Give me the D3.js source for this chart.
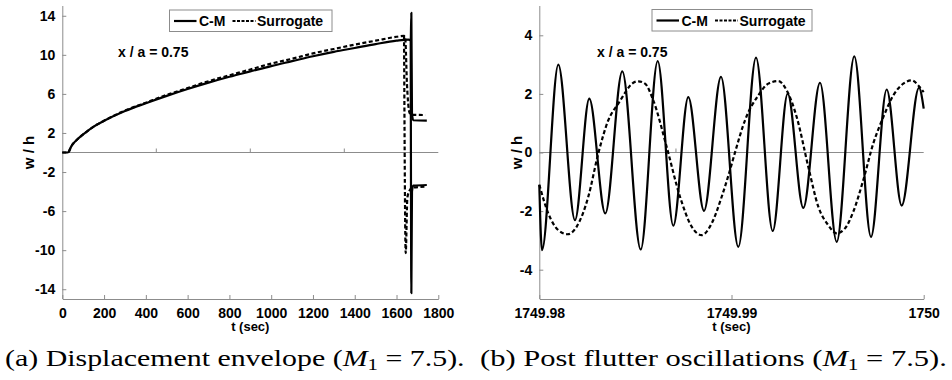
<!DOCTYPE html>
<html>
  <meta charset="utf-8">
  <script src="https://d3js.org/d3.v7.js"></script>
  <style>
    body { margin: 0; background: #fff; }
    text { font-family: "Liberation Sans", Arial, sans-serif; font-weight: bold; }
    .cap { font-family: "Liberation Serif", "DejaVu Serif", serif; font-weight: normal; }
  </style>
  <body>
    <svg id="fig" width="952" height="380"></svg>
    <script>
      // (a) displacement envelope, t in sec
      const cmT = [0, 25, 30, 40, 50, 70, 100, 150, 200, 300, 400, 500, 600, 700, 800, 900, 1000, 1100, 1200, 1300, 1400, 1500, 1600, 1656, 1668, 1671, 1674, 1680, 1745];
      const cmW = [0, 0, 0.05, 0.5, 0.85, 1.3, 1.85, 2.65, 3.25, 4.25, 5.05, 5.8, 6.5, 7.15, 7.75, 8.3, 8.85, 9.35, 9.85, 10.3, 10.7, 11.1, 11.45, 11.56, 11.5, 14.3, 4.0, 3.3, 3.26];
      const cmLowT = [1668, 1671, 1674, 1680, 1745];
      const cmLowW = [11.5, -14.4, -4.0, -3.4, -3.33];
      const suT = [0, 25, 30, 40, 50, 70, 100, 150, 200, 300, 400, 500, 600, 700, 800, 900, 1000, 1100, 1200, 1300, 1400, 1500, 1600, 1636, 1642, 1650, 1662, 1672, 1738];
      const suW = [0, 0, 0.05, 0.5, 0.85, 1.3, 1.85, 2.65, 3.25, 4.3, 5.1, 5.9, 6.6, 7.3, 7.9, 8.5, 9.1, 9.6, 10.15, 10.6, 11.05, 11.45, 11.85, 11.95, 11.6, 7.0, 4.1, 3.85, 3.84];
      const suLowT = [1636, 1644, 1652, 1664, 1676, 1742];
      const suLowW = [11.95, -10.3, -4.6, -3.84, -3.6, -3.5];
      const xTicksA = [0, 200, 400, 600, 800, 1000, 1200, 1400, 1600, 1800];
      const yTicksA = [14, 10, 6, 2, -2, -6, -10, -14];
      const zeroTicksA = [450, 900, 1350];

      // (b) post flutter oscillations
      const cmPostT = [1749.98, 1749.98014, 1749.980989, 1749.981857, 1749.982601, 1749.983434, 1749.984318, 1749.985276, 1749.98616, 1749.986972, 1749.987752, 1749.988569, 1749.989454, 1749.990354, 1749.991275, 1749.992144, 1749.992924, 1749.993736, 1749.994604, 1749.995474, 1749.996389, 1749.997258, 1749.998075, 1749.998855, 1749.999755, 1750];
      const cmPostW = [-1.1, -3.33, 3.0, -2.31, 1.84, -2.08, 2.77, -3.31, 3.12, -2.5, 1.89, -1.99, 2.58, -3.22, 3.24, -2.68, 2.01, -1.89, 2.38, -3.05, 3.28, -2.88, 2.15, -1.81, 2.21, 1.5];
      const suPostT = [1749.98, 1749.980468, 1749.980989, 1749.981478, 1749.981946, 1749.982549, 1749.98307, 1749.98359, 1749.98411, 1749.984979, 1749.985151, 1749.985499, 1749.985931, 1749.986628, 1749.98732, 1749.987929, 1749.98845, 1749.98897, 1749.98949, 1749.989922, 1749.990182, 1749.990702, 1749.991394, 1749.991915, 1749.992435, 1749.992872, 1749.993392, 1749.993996, 1749.994516, 1749.995036, 1749.995474, 1749.995905, 1749.996337, 1749.996857, 1749.997378, 1749.997898, 1749.998418, 1749.998939, 1749.999376, 1749.999719, 1750];
      const suPostW = [-1.1, -2.08, -2.65, -2.79, -2.53, -1.51, -0.03, 1.1, 1.67, 2.41, 2.43, 2.35, 1.78, 0.19, -1.51, -2.53, -2.82, -2.42, -1.51, -0.6, 0.0, 1.1, 1.95, 2.35, 2.44, 2.12, 1.21, -0.49, -1.85, -2.48, -2.76, -2.59, -2.02, -0.94, 0.31, 1.21, 1.95, 2.35, 2.46, 2.29, 2.06];
      const xTicksB = [1749.98, 1749.99, 1750];
      const yTicksB = [4, 2, 0, -2, -4];
      const zeroTicksB = [1749.98711];

      const svg = d3.select("#fig");
      const axisGray = "#8c8c8c";

      var zip = function (ts, ws) {
        return ts.map(function (t, i) { return [t, ws[i]]; });
      };

      var panel = function (opt) {
        const g = svg.append("g");
        const x = d3.scaleLinear().domain(opt.xDomain).range(opt.xRange);
        const y = d3.scaleLinear().domain(opt.yDomain).range([299, 6]);

        // zero line with its small ticks
        g.append("line")
          .attr("x1", opt.xRange[0]).attr("x2", opt.xRange[1])
          .attr("y1", y(0)).attr("y2", y(0))
          .attr("stroke", axisGray).attr("stroke-width", 1);
        g.selectAll(".zt").data(opt.zeroTicks).enter().append("line")
          .attr("x1", d => x(d)).attr("x2", d => x(d))
          .attr("y1", y(0)).attr("y2", y(0) - 4)
          .attr("stroke", axisGray);

        // axes (plain hyphen for negatives, like the original)
        const xAxis = g.append("g")
          .attr("transform", "translate(0,299)")
          .call(d3.axisBottom(x).tickValues(opt.xTicks).tickSizeInner(-4).tickSizeOuter(0).tickPadding(9).tickFormat(opt.xFormat));
        const yAxis = g.append("g")
          .attr("transform", "translate(" + opt.xRange[0] + ",0)")
          .call(d3.axisLeft(y).tickValues(opt.yTicks).tickSizeInner(-4).tickSizeOuter(0).tickPadding(7).tickFormat(d => String(d)));
        [xAxis, yAxis].forEach(function (a) {
          a.select(".domain").attr("stroke", axisGray);
          a.selectAll(".tick line").attr("stroke", axisGray);
          a.selectAll("text").attr("fill", "#000").style("font-size", "14px").style("font-family", "Liberation Sans, Arial, sans-serif").style("font-weight", "bold");
        });
        yAxis.select(".domain").attr("d", "M0.5,6V299");

        // curves
        const line = d3.line().x(d => x(d[0])).y(d => y(d[1])).curve(d3.curveMonotoneX);
        opt.series.forEach(function (s) {
          g.append("path")
            .attr("d", line(s.pts))
            .attr("fill", "none")
            .attr("stroke", "#000")
            .attr("stroke-width", 2.2)
            .attr("stroke-dasharray", s.dash ? "4,2.5" : null)
            .attr("stroke-linejoin", "round");
        });

        // labels
        g.append("text")
          .attr("transform", "translate(" + opt.yLabelX + "," + y(0) + ") rotate(-90)")
          .attr("text-anchor", "middle").attr("dominant-baseline", "central")
          .style("font-size", "15px").text("w / h");
        g.append("text")
          .attr("x", (opt.xRange[0] + opt.xRange[1]) / 2).attr("y", 331)
          .attr("text-anchor", "middle").style("font-size", "13px").text("t (sec)");
        g.append("text")
          .attr("x", opt.noteX).attr("y", 57)
          .style("font-size", "14px").text("x / a = 0.75");

        // legend
        const lg = g.append("g").attr("transform", "translate(" + opt.legX + "," + opt.legY + ")");
        lg.append("rect").attr("x", 0).attr("y", 0).attr("width", opt.legW).attr("height", 21.5)
          .attr("fill", "#fff").attr("stroke", axisGray).attr("stroke-width", 1);
        lg.append("line").attr("x1", 4.5).attr("x2", 27).attr("y1", 11).attr("y2", 11)
          .attr("stroke", "#000").attr("stroke-width", 2.2);
        lg.append("text").attr("x", 29.5).attr("y", 16).style("font-size", "14px").text("C-M");
        lg.append("line").attr("x1", 63).attr("x2", 86).attr("y1", 11).attr("y2", 11)
          .attr("stroke", "#000").attr("stroke-width", 2.2).attr("stroke-dasharray", "3,1.5");
        lg.append("text").attr("x", 87.5).attr("y", 16).style("font-size", "14px").text("Surrogate");
      };

      panel({
        xDomain: [0, 1800], xRange: [62.3, 438.3], yDomain: [-15, 15],
        xTicks: xTicksA, yTicks: yTicksA, zeroTicks: zeroTicksA, xFormat: d => String(d),
        series: [
          { pts: zip(cmT, cmW), dash: false },
          { pts: zip(cmLowT, cmLowW), dash: false },
          { pts: zip(suT, suW), dash: true },
          { pts: zip(suLowT, suLowW), dash: true }
        ],
        yLabelX: 28, noteX: 118, legX: 169.5, legY: 10, legW: 162.5
      });

      panel({
        xDomain: [1749.98, 1750], xRange: [539.3, 923.7], yDomain: [-5, 5],
        xTicks: xTicksB, yTicks: yTicksB, zeroTicks: zeroTicksB,
        xFormat: function (d) { return d === 1750 ? "1750" : d3.format(".2f")(d); },
        series: [
          { pts: zip(cmPostT, cmPostW), dash: false },
          { pts: zip(suPostT, suPostW), dash: true }
        ],
        yLabelX: 516, noteX: 597, legX: 652, legY: 9.5, legW: 160
      });

      // captions, stretched to the width of the LaTeX original
      var caption = function (xPos, width, label) {
        const t = svg.append("text").attr("class", "cap").style("font-size", "23px");
        t.append("tspan").text(label + " (");
        t.append("tspan").style("font-style", "italic").text("M");
        t.append("tspan").attr("dy", 4).style("font-size", "16px").text("1");
        t.append("tspan").attr("dy", -4).text(" = 7.5).");
        const len = t.node().getComputedTextLength();
        t.attr("transform", "translate(" + xPos + ",366) scale(" + (width / len) + ",1)");
      };
      caption(5, 460, "(a) Displacement envelope");
      caption(480, 467, "(b) Post flutter oscillations");
    </script>
  </body>
</html>
